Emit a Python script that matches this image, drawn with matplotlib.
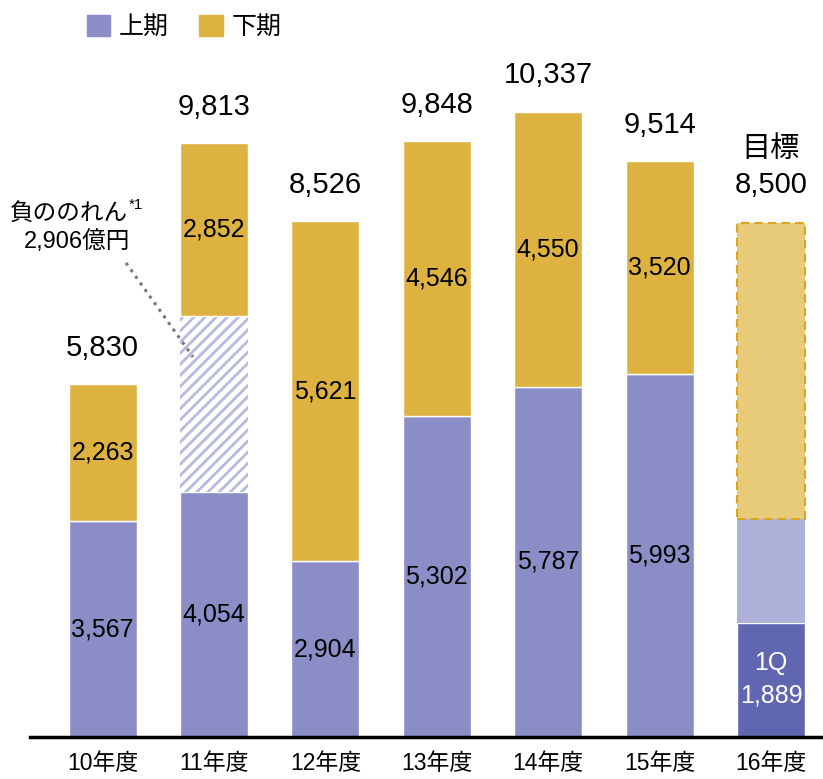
import numpy as np
import matplotlib.pyplot as plt
from matplotlib.patches import Patch

# -Daten---------------------------------------------------------------------------------------------------------------#

years = ['10年度', '11年度', '12年度', '13年度', '14年度', '15年度', '16年度']
kami = [3567, 4054, 2904, 5302, 5787, 5993]
shimo = [2263, 2852, 5621, 4546, 4550, 3520]
totals = [5830, 9813, 8526, 9848, 10337, 9514]
noren = 2906          # 負ののれん (11年度)
q1_16 = 1889          # 16年度 1Q
kami_plan_16 = 3600   # 16年度 上期 (geschaetzt)
target_16 = 8500

# -Farben--------------------------------------------------------------------------------------------------------------#

purple = '#8B8EC6'
gold = '#DDB240'
dark_purple = '#6166B0'
light_purple = '#AFB2D8'
light_gold = '#E8CB78'

plt.rcParams['font.family'] = ['Liberation Sans', 'Noto Sans CJK JP', 'DejaVu Sans']
plt.rcParams['hatch.linewidth'] = 2.0

fig = plt.figure(figsize=(8.23, 7.79), dpi=100)
ax = fig.add_axes([30/823, 42/779, 793/823, 737/779])

x = np.arange(len(years))
w = 0.61

# Ist-Werte
x6 = x[:6]
ax.bar(x6, kami, w, color=purple, edgecolor='white', linewidth=1)
bottom2 = np.array(kami, dtype=float)
bottom2[1] += noren
ax.bar(x[1], noren, w, bottom=kami[1], facecolor='white', edgecolor='#B7BADD',
       hatch='///', linewidth=0)
ax.bar(x6, shimo, w, bottom=bottom2, color=gold, edgecolor='white', linewidth=1)

# 16年度
ax.bar(x[6], q1_16, w, color=dark_purple, edgecolor='white', linewidth=1)
ax.bar(x[6], kami_plan_16 - q1_16, w, bottom=q1_16, color=light_purple, edgecolor='none')
ax.bar(x[6], target_16 - kami_plan_16, w, bottom=kami_plan_16, facecolor=light_gold,
       edgecolor='#D9A520', linestyle=(0, (4, 2.5)), linewidth=1.5)

# -Beschriftungen------------------------------------------------------------------------------------------------------#

fs_in = 18
for i in range(6):
    ax.text(x[i], kami[i] / 2, '{:,}'.format(kami[i]), ha='center', va='center', fontsize=fs_in)
    ax.text(x[i], bottom2[i] + shimo[i] / 2, '{:,}'.format(shimo[i]), ha='center', va='center',
            fontsize=fs_in)
    ax.annotate('{:,}'.format(totals[i]), (x[i], bottom2[i] + shimo[i]), xytext=(0, 26),
                textcoords='offset points', ha='center', va='center', fontsize=21)

ax.text(x[6], 1223, '1Q', ha='center', va='center', fontsize=fs_in, color='white')
ax.text(x[6], 694, '{:,}'.format(q1_16), ha='center', va='center', fontsize=fs_in, color='white')
ax.annotate('{:,}'.format(target_16), (x[6], target_16), xytext=(0, 27),
            textcoords='offset points', ha='center', va='center', fontsize=21)
ax.annotate('目標', (x[6], target_16), xytext=(0, 53),
            textcoords='offset points', ha='center', va='center', fontsize=21)

# 負ののれん
ax.text(0.232, 8628, '負ののれん', ha='right', va='center', fontsize=17)
ax.text(0.24, 8800, '*1', ha='left', va='center', fontsize=11)
ax.text(-0.233, 8182, '2,906億円', ha='center', va='center', fontsize=17)
ax.plot([0.211, 0.812], [7835, 6281], color='#777777', ls=':', lw=2.2)

# -Achsen--------------------------------------------------------------------------------------------------------------#

ax.set_xlim(-0.651, 6.467)
ax.set_ylim(0, 12180)
ax.set_yticks([])
ax.set_xticks(x)
ax.set_xticklabels(years, fontsize=16.5)
ax.tick_params(axis='x', length=0, pad=11)
for s in ['top', 'right', 'left']:
    ax.spines[s].set_visible(False)
ax.spines['bottom'].set_linewidth(2.5)

handles = [Patch(color=purple, label='上期'), Patch(color=gold, label='下期')]
fig.legend(handles=handles, loc='upper left', bbox_to_anchor=(64/823, 1.01), ncol=2, frameon=False,
           fontsize=18, handlelength=0.95, handleheight=0.95, handletextpad=0.35, columnspacing=1.2)

plt.savefig('out.png', dpi=100)
